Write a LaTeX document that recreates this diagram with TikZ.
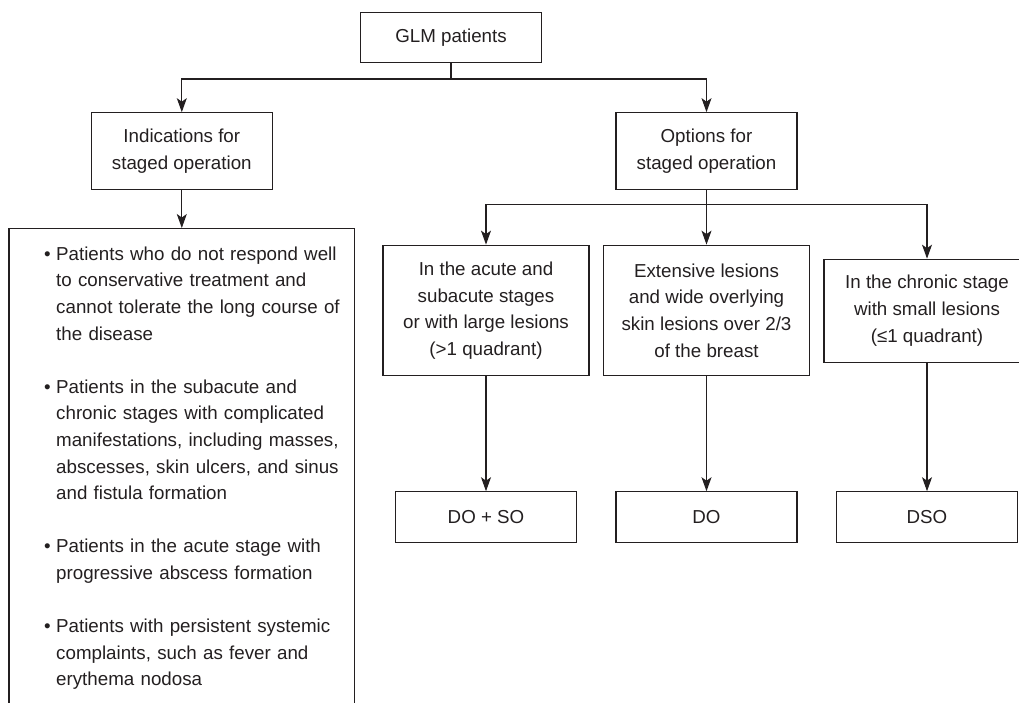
\documentclass[tikz,border=0pt]{standalone}
\usepackage{fontspec}
\setmainfont{Liberation Sans}
\usetikzlibrary{arrows.meta}
\definecolor{inkgray}{RGB}{35,31,32}
\newcommand{\itemdot}{\makebox[12pt][l]{\textbullet}}
\newcommand{\itemgap}{\hspace*{12pt}}

\begin{document}
\begin{tikzpicture}[x=1pt,y=-1pt,
    box/.style={draw=inkgray,line width=1.1pt,text=inkgray,align=center,inner sep=0pt,
        font=\fontsize{18.75}{26.6}\selectfont},
    smallbox/.style={box,minimum width=181pt,minimum height=50.5pt},
    arr/.style={draw=inkgray,line width=1.1pt,-{Stealth[length=14pt,width=10pt,inset=3.5pt]}},
    link/.style={draw=inkgray,line width=1.1pt}]
  \path[use as bounding box,clip] (0,0) rectangle (1019,702);
  % top of the tree
  \node[smallbox] (glm) at (451,37.3) {GLM patients};
  \node[box,minimum width=181pt,minimum height=76.6pt] (indic) at (181.8,151)
    {Indications for\\staged operation};
  \node[box,minimum width=181pt,minimum height=76.6pt] (optn) at (706.5,151)
    {Options for\\staged operation};
  \coordinate (topsplit) at (451,79);
  \draw[link] (glm.south) -- (topsplit);
  \draw[arr] (topsplit) -| (indic.north);
  \draw[arr] (topsplit) -| (optn.north);
  % left branch
  \node[box,minimum width=345.7pt,minimum height=520pt,anchor=north] (crit) at (181.8,228) {};
  \node[anchor=north west,text width=305pt,align=left,inner sep=0pt,text=inkgray,
        font=\fontsize{18.75}{26.6}\selectfont] (critlist) at (44,246.5)
    {\itemdot Patients who do not respond well\\
     \itemgap to conservative treatment and\\
     \itemgap cannot tolerate the long course of\\
     \itemgap the disease\\[26.6pt]
     \itemdot Patients in the subacute and\\
     \itemgap chronic stages with complicated\\
     \itemgap manifestations, including masses,\\
     \itemgap abscesses, skin ulcers, and sinus\\
     \itemgap and fistula formation\\[26.6pt]
     \itemdot Patients in the acute stage with\\
     \itemgap progressive abscess formation\\[26.6pt]
     \itemdot Patients with persistent systemic\\
     \itemgap complaints, such as fever and\\
     \itemgap erythema nodosa};
  \draw[arr] (indic.south) -- (crit.north);
  % right branch
  \node[box,minimum width=206pt,minimum height=130.7pt] (acute) at (486,310.5)
    {In the acute and\\subacute stages\\or with large lesions\\(>1 quadrant)};
  \node[box,minimum width=206pt,minimum height=130.7pt] (wide) at (706.5,310.5)
    {Extensive lesions\\and wide overlying\\skin lesions over 2/3\\of the breast};
  \node[box,minimum width=206pt,minimum height=103pt] (chron) at (927,310.7)
    {In the chronic stage\\with small lesions\\(≤1 quadrant)};
  \coordinate (optsplit) at (706.5,204.7);
  \draw[link] (optn.south) -- (optsplit);
  \draw[arr] (optsplit) -| (acute.north);
  \draw[arr] (optsplit) -- (wide.north);
  \draw[arr] (optsplit) -| (chron.north);
  \node[smallbox] (doso) at (486,517) {DO + SO};
  \node[smallbox] (do) at (706.5,517) {DO};
  \node[smallbox] (dso) at (927,517) {DSO};
  \draw[arr] (acute.south) -- (doso.north);
  \draw[arr] (wide.south) -- (do.north);
  \draw[arr] (chron.south) -- (dso.north);
\end{tikzpicture}
\end{document}
